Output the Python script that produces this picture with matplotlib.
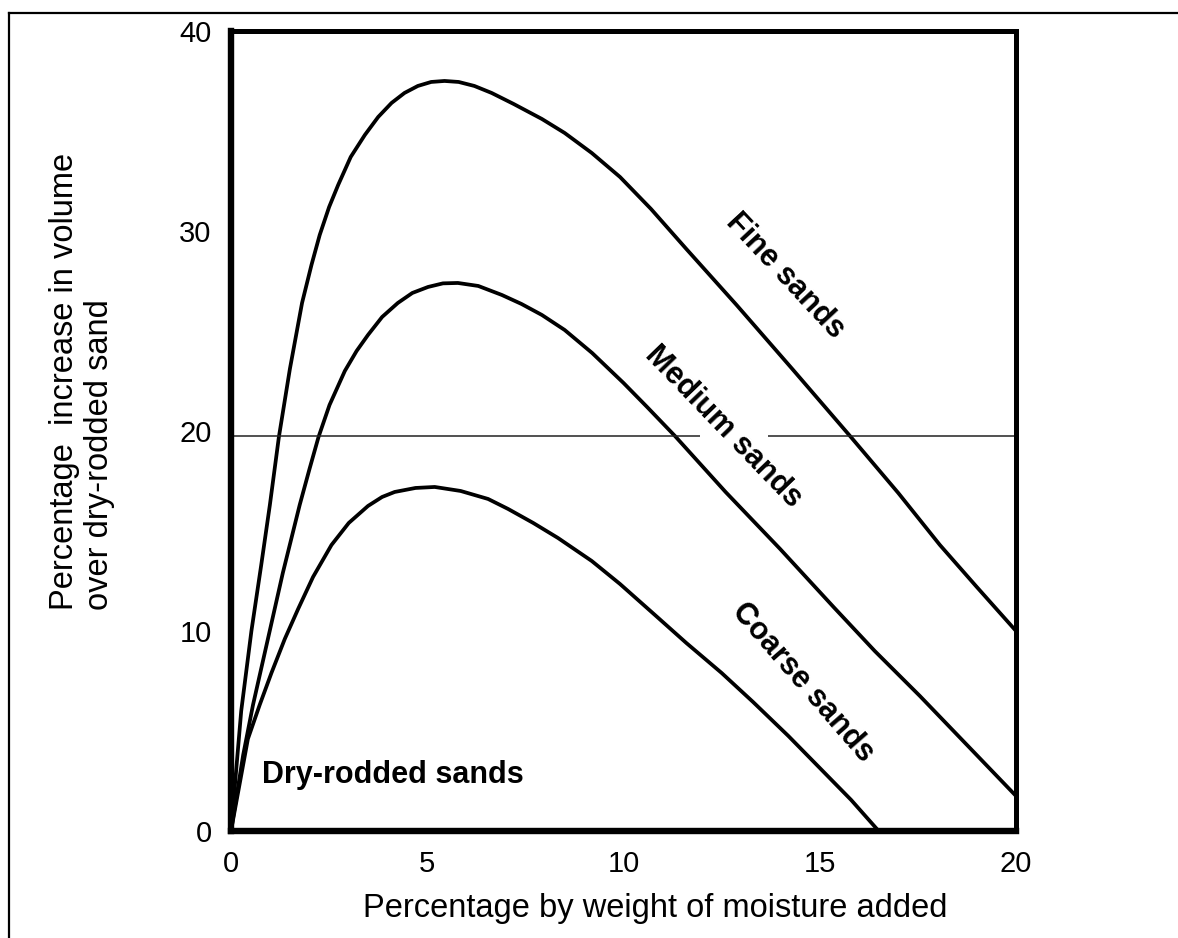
import matplotlib
matplotlib.use("Agg")
import matplotlib.pyplot as plt
from matplotlib.lines import Line2D

plt.rcParams["font.family"] = ["Liberation Sans", "DejaVu Sans"]

# Bulking of sand: values
fine_x = [0, 0.26, 0.52, 0.77, 0.99, 1.22, 1.50, 1.81, 2.05, 2.26, 2.5, 2.73,
          3.05, 3.41, 3.75, 4.09, 4.42, 4.76, 5.1, 5.44, 5.8, 6.2, 6.64, 7.2,
          7.92, 8.5, 9.19, 9.91, 10.7, 11.6, 12.88, 14.3, 15.77, 17.0, 18.06,
          19.0, 20]
fine_y = [0, 6.0, 10.0, 13.3, 16.3, 19.7, 23.1, 26.4, 28.3, 29.8, 31.2, 32.3,
          33.7, 34.8, 35.7, 36.4, 36.9, 37.25, 37.45, 37.5, 37.45, 37.25, 36.9,
          36.35, 35.6, 34.9, 33.9, 32.7, 31.1, 29.1, 26.3, 23.1, 19.75, 16.9,
          14.3, 12.2, 10.0]

medium_x = [0, 0.31, 0.56, 0.94, 1.32, 1.75, 2.0, 2.23, 2.51, 2.9, 3.2, 3.49,
            3.85, 4.25, 4.62, 5.02, 5.4, 5.78, 6.3, 6.9, 7.4, 7.92, 8.5, 9.2,
            10.0, 10.6, 11.31, 12.6, 13.99, 15.35, 16.4, 17.55, 18.8, 20]
medium_y = [0, 3.8, 6.3, 9.6, 12.9, 16.3, 18.1, 19.7, 21.3, 23.0, 24.0, 24.8,
            25.7, 26.4, 26.9, 27.2, 27.38, 27.4, 27.25, 26.8, 26.35, 25.8,
            25.05, 23.9, 22.4, 21.2, 19.75, 16.95, 14.1, 11.2, 9.0, 6.75, 4.2,
            1.75]

coarse_x = [0, 0.43, 0.73, 1.03, 1.37, 1.71, 2.09, 2.56, 3.0, 3.49, 3.85, 4.17,
            4.7, 5.19, 5.85, 6.55, 7.06, 7.7, 8.33, 9.19, 9.91, 10.8, 11.6,
            12.5, 13.3, 14.2, 15.0, 15.8, 16.5]
coarse_y = [0, 4.6, 6.3, 7.9, 9.6, 11.1, 12.7, 14.3, 15.4, 16.25, 16.7, 16.95,
            17.15, 17.2, 17.0, 16.6, 16.1, 15.4, 14.65, 13.5, 12.35, 10.8, 9.4,
            7.9, 6.45, 4.75, 3.15, 1.55, 0.0]

ref_level = 19.75
ref_gap = [11.95, 13.68]   # line is broken where "Medium sands" crosses it

x_ticks = [0, 5, 10, 15, 20]
y_ticks = [0, 10, 20, 30, 40]

fig = plt.figure(figsize=(11.78, 9.38), dpi=100, facecolor="white")
ax = fig.add_axes([0.1961, 0.1141, 0.6664, 0.8529])

for xs, ys in [(fine_x, fine_y), (medium_x, medium_y), (coarse_x, coarse_y)]:
    ax.plot(xs, ys, color="black", linewidth=2.7, solid_joinstyle="round")

ax.hlines(ref_level, 0, ref_gap[0], color="#222222", linewidth=1.1)
ax.hlines(ref_level, ref_gap[1], 20, color="#222222", linewidth=1.1)

ax.set_xlim(0, 20)
ax.set_ylim(0, 40)
ax.set_xticks(x_ticks)
ax.set_yticks(y_ticks)
ax.tick_params(length=0, labelsize=21, pad=14)

for side in ["left", "bottom"]:
    ax.spines[side].set_linewidth(4.6)
for side in ["top", "right"]:
    ax.spines[side].set_linewidth(3.6)

# curve labels
lab = dict(fontsize=22, fontweight="bold", ha="center", va="center",
           rotation_mode="anchor")
ax.text(14.11, 27.75, "Fine sands", rotation=-47, **lab)
ax.text(12.55, 20.2, "Medium sands", rotation=-46, **lab)
ax.text(14.58, 7.43, "Coarse sands", rotation=-49, **lab)
ax.text(0.78, 2.78, "Dry-rodded sands", fontsize=22, fontweight="bold",
        ha="left", va="center")

fig.text(655 / 1178, 1 - 908 / 938, "Percentage by weight of moisture added",
         fontsize=23.5, ha="center", va="center")
fig.text(82 / 1178, 1 - 610 / 938,
         "Percentage  increase in volume\nover dry-rodded sand",
         fontsize=23.5, rotation=90, ha="center", va="bottom",
         multialignment="left", linespacing=1.15)

# outer frame (top and left edges only)
fig.add_artist(Line2D([8.5 / 1178, 1], [1 - 13 / 938, 1 - 13 / 938],
                      color="black", linewidth=1.6, transform=fig.transFigure))
fig.add_artist(Line2D([8.5 / 1178, 8.5 / 1178], [0, 1 - 13 / 938],
                      color="black", linewidth=1.6, transform=fig.transFigure))

fig.savefig("out.png", dpi=100, facecolor="white")
